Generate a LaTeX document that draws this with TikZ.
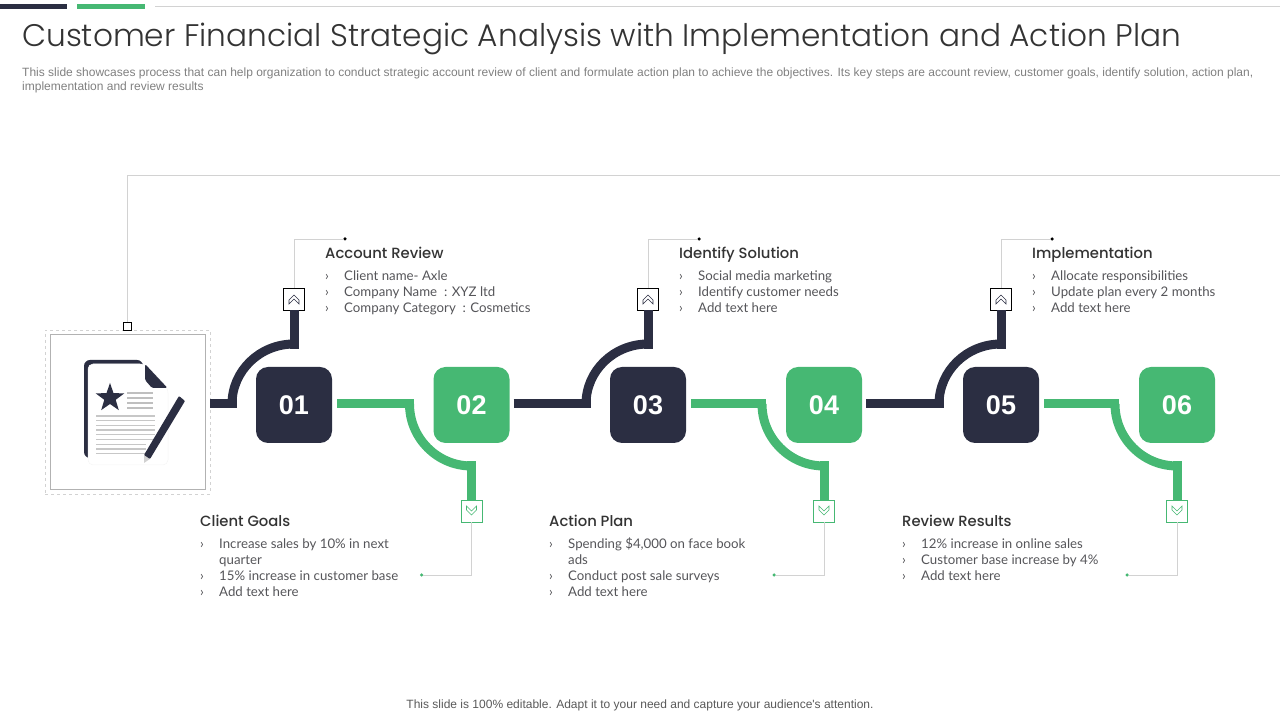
\documentclass[tikz,border=0pt]{standalone}
\usepackage{fontspec}
\usepackage{array}
\usetikzlibrary{calc,shapes.geometric}
\setmainfont{Lato}
\newfontfamily\titlefont{Poppins Light}
\newfontfamily\headfont{Poppins Medium}
\newfontfamily\arialfont{Liberation Sans}
\definecolor{navy}{HTML}{2B2E42}
\definecolor{leaf}{HTML}{46B873}
\definecolor{hair}{HTML}{D2D2D2}
\definecolor{bodytext}{HTML}{555559}
\tikzset{
  barline/.style={line width=9pt},
  hairline/.style={hair,line width=0.9pt},
  numbox/.style={minimum size=76pt,rounded corners=12pt,inner sep=0pt,text=white,font=\arialfont\bfseries\fontsize{27}{27}\selectfont},
  chevbox/.style={draw,fill=white,minimum width=21pt,minimum height=22pt,inner sep=0pt,line width=0.8pt},
  headtext/.style={anchor=base west,inner sep=0pt,text=black!80,font=\headfont\fontsize{14.8}{16}\selectfont},
  listtext/.style={anchor=north west,inner sep=0pt,text=bodytext,font=\fontsize{13.25}{16}\selectfont},
  freetext/.style={anchor=west,inner sep=0pt,text=black!50,font=\arialfont\fontsize{12}{14}\selectfont},
}
% one bullet list, rows 16 high
\newcommand{\bulletlist}[1]{\begin{tabular}{@{}>{\hspace{0pt}}p{19pt}@{}l@{}}#1\end{tabular}}
\begin{document}
\begin{tikzpicture}[x=1pt,y=1pt]
\useasboundingbox (0,0) rectangle (1280,720);
% top strip
\fill[navy] (0,711) rectangle (67,716);
\fill[leaf] (77,711) rectangle (145,716);
\draw[hairline] (155,714) -- (1280,714);
% head
\node[anchor=base west,inner sep=0pt,text=black!80,font=\titlefont\fontsize{31.2}{36}\selectfont] (title) at (22,673) {Customer Financial Strategic Analysis with Implementation and Action Plan};
\node[freetext] (intro1) at (22,646.5) {This slide showcases process that can help organization to conduct strategic account review of client and formulate action plan to achieve the objectives. Its key steps are account review, customer goals, identify solution, action plan,};
\node[freetext] (intro2) at (22,632.5) {implementation and review results};
\node[freetext,anchor=center,text=black!65] (foot) at (640,15) {This slide is 100\% editable. Adapt it to your need and capture your audience's attention.};
% icon frame
\node[draw=hair,dashed,line width=0.8pt,minimum width=165pt,minimum height=164pt,inner sep=0pt] (frameout) at (127.5,308) {};
\node[draw=black!30,line width=0.8pt,minimum width=155.5pt,minimum height=155.5pt,inner sep=0pt] (framein) at (128,308) {};
\node[draw=black,fill=white,minimum size=8pt,inner sep=0pt,line width=0.7pt] (topsq) at (127.5,394) {};
\coordinate (farend) at (1280,545);
\draw[hairline] (topsq.north) |- (farend);
% document icon
\fill[navy,rounded corners=6pt] (84,262) -- (84,360) -- (143,360) -- (143,330) -- (100,262) -- cycle;
\fill[white,rounded corners=5pt,draw=black!4,line width=0.5pt] (88,255) -- (88,356) -- (145,356) -- (168,332) -- (168,255) -- cycle;
\fill[navy,rounded corners=1.5pt] (145,356) -- (167.5,332) -- (152,332) -- (145,340) -- cycle;
\node[star,star points=5,star point ratio=2.5,fill=navy,inner sep=0pt,minimum size=30pt] (badge) at (110,322) {};
\foreach \y in {327,322,317,312}
  \draw[black!25,line width=1.1pt] (127,\y) -- (153,\y);
\foreach \y in {304,299.3,294.6,289.9,285.2,280.5}
  \draw[black!22,line width=1.3pt] (96,\y) -- (155,\y);
\foreach \y in {275.8,271.1,266.4}
  \draw[black!22,line width=1.3pt] (96,\y) -- (146,\y);
\fill[black!18] (144,265) -- (150,261) -- (144,257) -- cycle;
\fill[navy,rounded corners=0.8pt] (179,324) -- (185,319) -- (150,261) -- (144,265) -- cycle;
% number boxes
\foreach \n/\x/\c in {1/294/navy,2/471.5/leaf,3/648/navy,4/824/leaf,5/1001/navy,6/1177/leaf}
  \node[numbox,fill=\c] (num\n) at (\x,315) {0\n};
% upper stems
\foreach \n/\t/\g in {1/frameout/0,3/num2/4,5/num4/4}{
  \node[chevbox,draw=black] (chev\n) at ($(num\n)+(0,106)$) {};
  \coordinate (barend\n) at ($(num\n.west)+(-19,1)$);
  \draw[barline,navy] ($(\t.east |- barend\n)+(\g,0)$) -- (barend\n);
  \draw[barline,navy] ($(num\n)+(-62,1)$) arc[start angle=180,end angle=90,x radius=62,y radius=60];
  \draw[barline,navy] (chev\n.south) -- ++(0,-38.5);
  \draw[navy,line width=0.6pt] ($(chev\n)+(-5,-1)$) -- ++(5,5) -- ++(5,-5) -- ++(0,-4) -- ++(-5,5) -- ++(-5,-5) -- cycle;
  \node[circle,fill=black,minimum size=3.5pt,inner sep=0pt] (dot\n) at ($(num\n)+(51,166)$) {};
  \draw[hairline] (chev\n.north) |- (dot\n);
}
% lower stems
\foreach \n/\t in {2/num1,4/num3,6/num5}{
  \node[chevbox,draw=leaf] (chev\n) at ($(num\n)+(0,-106)$) {};
  \coordinate (barend\n) at ($(num\n.west)+(-19.5,1)$);
  \draw[barline,leaf] ($(\t.east |- barend\n)+(5,0)$) -- (barend\n);
  \draw[barline,leaf] ($(num\n)+(-62,1)$) arc[start angle=180,end angle=270,x radius=62,y radius=62];
  \draw[barline,leaf] (chev\n.north) -- ++(0,38.5);
  \draw[leaf,line width=0.6pt] ($(chev\n)+(-5,1)$) -- ++(5,-5) -- ++(5,5) -- ++(0,4) -- ++(-5,-5) -- ++(-5,5) -- cycle;
  \node[circle,fill=leaf,minimum size=3.5pt,inner sep=0pt] (dot\n) at ($(num\n)+(-50,-170)$) {};
  \draw[hairline] (chev\n.south) |- (dot\n);
}
% texts
\node[headtext] (head1) at (325,461.5) {Account Review};
\node[listtext] (list1) at (325,450.5) {\bulletlist{› & Client name- Axle\\› & Company Name\ \ : XYZ ltd\\› & Company Category\ \ : Cosmetics}};
\node[headtext] (head3) at (679,461.5) {Identify Solution};
\node[listtext] (list3) at (679,450.5) {\bulletlist{› & Social media marketing\\› & Identify customer needs\\› & Add text here}};
\node[headtext] (head5) at (1032,461.5) {Implementation};
\node[listtext] (list5) at (1032,450.5) {\bulletlist{› & Allocate responsibilities\\› & Update plan every 2 months\\› & Add text here}};
\node[headtext] (head2) at (200,193.5) {Client Goals};
\node[listtext] (list2) at (200,182.5) {\bulletlist{› & Increase sales by 10\% in next\\ & quarter\\› & 15\% increase in customer base\\› & Add text here}};
\node[headtext] (head4) at (549,193.5) {Action Plan};
\node[listtext] (list4) at (549,182.5) {\bulletlist{› & Spending \$4,000 on face book\\ & ads\\› & Conduct post sale surveys\\› & Add text here}};
\node[headtext] (head6) at (902,193.5) {Review Results};
\node[listtext] (list6) at (902,182.5) {\bulletlist{› & 12\% increase in online sales\\› & Customer base increase by 4\%\\› & Add text here}};
\end{tikzpicture}
\end{document}
